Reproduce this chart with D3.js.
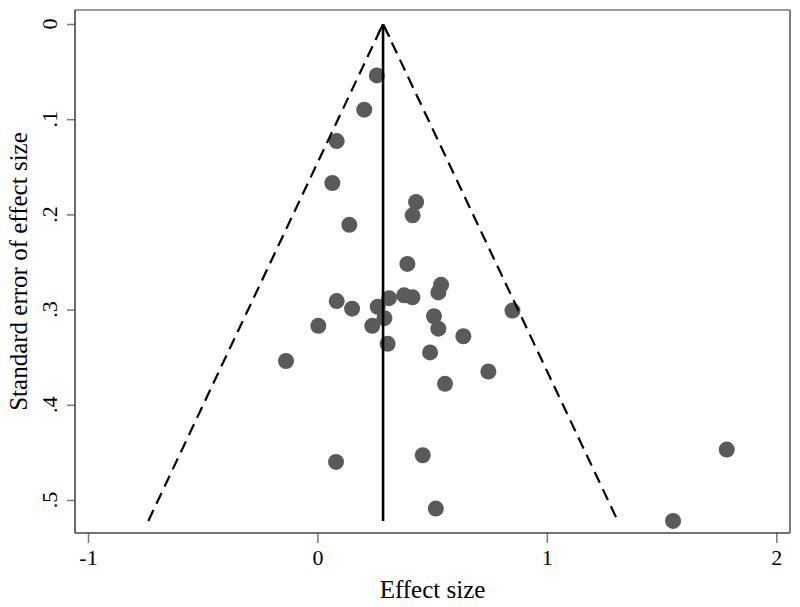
<!DOCTYPE html>
<html>
<head>
<meta charset="utf-8">
<script src="https://cdnjs.cloudflare.com/ajax/libs/d3/7.8.5/d3.min.js"></script>
<style>
  body { margin: 0; background: #fff; }
  svg { display: block; font-family: "Liberation Serif", "Times New Roman", serif; }
</style>
</head>
<body>
<div id="chart"></div>
<script>
// effect size of each study
var effectSize = [0.259, 0.204, 0.084, 0.065, 0.139, 0.430, 0.415, 0.392, 0.539, 0.527,
                  0.084, 0.151, 0.263, 0.312, 0.378, 0.414, 0.292, 0.508, 0.527, 0.004,
                  0.239, 0.850, 0.636, 0.306, 0.491, -0.137, 0.745, 0.556, 0.081, 0.459,
                  0.516, 1.784, 1.550];
// standard error of each study
var stdError = [0.054, 0.090, 0.123, 0.167, 0.211, 0.187, 0.201, 0.252, 0.274, 0.282,
                0.291, 0.299, 0.297, 0.288, 0.285, 0.287, 0.309, 0.307, 0.320, 0.317,
                0.317, 0.301, 0.328, 0.336, 0.345, 0.354, 0.365, 0.378, 0.460, 0.453,
                0.509, 0.447, 0.522];
var pooled = 0.286;
var maxSE = 0.522;
var xTicks = [-1, 0, 1, 2];
var xTickLabels = ["-1", "0", "1", "2"];
var yTicks = [0, 0.1, 0.2, 0.3, 0.4, 0.5];
var yTickLabels = ["0", ".1", ".2", ".3", ".4", ".5"];

var width = 800, height = 607;
var pLeft = 75, pRight = 790, pTop = 10, pBottom = 533;

var x = d3.scaleLinear().domain([-1, 2]).range([88, 776.3]);
var y = d3.scaleLinear().domain([0, 0.5]).range([24, 500]);

var svg = d3.select("#chart").append("svg")
    .attr("width", width)
    .attr("height", height);

// arrow head for the pooled line
svg.append("defs").append("marker")
    .attr("id", "arrow")
    .attr("viewBox", "0 0 10 10")
    .attr("refX", 10).attr("refY", 5)
    .attr("markerWidth", 5).attr("markerHeight", 5)
    .attr("markerUnits", "strokeWidth")
    .attr("orient", "auto")
  .append("path")
    .attr("d", "M0,0 L10,5 L0,10")
    .attr("fill", "none")
    .attr("stroke", "#000")
    .attr("stroke-width", 1.4);

// frame
svg.append("line").attr("x1", pLeft).attr("x2", pRight).attr("y1", pTop).attr("y2", pTop)
    .attr("stroke", "#9a9a9a").attr("stroke-width", 2);
svg.append("line").attr("x1", pRight).attr("x2", pRight).attr("y1", pTop).attr("y2", pBottom)
    .attr("stroke", "#555").attr("stroke-width", 1.5);

// points
svg.selectAll("circle.pt")
    .data(effectSize)
  .enter().append("circle")
    .attr("class", "pt")
    .attr("cx", function(d) { return x(d); })
    .attr("cy", function(d, i) { return y(stdError[i]); })
    .attr("r", 8)
    .attr("fill", "#5a5a5a");

// pseudo confidence limits
var funnel = [[pooled - 1.96 * maxSE, maxSE], [pooled, 0], [pooled + 1.96 * maxSE, maxSE]];
svg.append("path")
    .attr("d", d3.line().x(function(d) { return x(d[0]); }).y(function(d) { return y(d[1]); })(funnel))
    .attr("fill", "none")
    .attr("stroke", "#000")
    .attr("stroke-width", 2.2)
    .attr("stroke-dasharray", "12,7");

// pooled effect line
svg.append("line")
    .attr("x1", x(pooled)).attr("x2", x(pooled))
    .attr("y1", y(maxSE)).attr("y2", y(0))
    .attr("stroke", "#000")
    .attr("stroke-width", 2.6)
    .attr("marker-end", "url(#arrow)");

// axes
var xAxis = svg.append("g")
    .attr("class", "x axis")
    .attr("transform", "translate(0," + pBottom + ")")
    .call(d3.axisBottom(x).tickValues(xTicks).tickSize(10).tickPadding(6)
        .tickFormat(function(d, i) { return xTickLabels[i]; }));
xAxis.select(".domain").remove();
xAxis.selectAll(".tick line").attr("stroke", "#777").attr("stroke-width", 1.5);
xAxis.selectAll(".tick text").style("font-size", "22px").attr("fill", "#000")
    .style("font-family", "Liberation Serif");

var yAxis = svg.append("g")
    .attr("class", "y axis")
    .attr("transform", "translate(" + pLeft + ",0)")
    .call(d3.axisLeft(y).tickValues(yTicks).tickSize(8).tickFormat(""));
yAxis.select(".domain").remove();
yAxis.selectAll(".tick line").attr("stroke", "#777").attr("stroke-width", 1.5);

// rotated y tick labels
svg.selectAll("text.ytick")
    .data(yTicks)
  .enter().append("text")
    .attr("class", "ytick")
    .attr("transform", function(d) { return "translate(57," + y(d) + ") rotate(-90)"; })
    .attr("text-anchor", "middle")
    .style("font-size", "22px")
    .text(function(d, i) { return yTickLabels[i]; });

// axis lines
svg.append("line").attr("x1", pLeft).attr("x2", pLeft).attr("y1", pTop).attr("y2", pBottom)
    .attr("stroke", "#444").attr("stroke-width", 1.6);
svg.append("line").attr("x1", pLeft).attr("x2", pRight).attr("y1", pBottom).attr("y2", pBottom)
    .attr("stroke", "#444").attr("stroke-width", 1.6);

// axis titles
svg.append("text")
    .attr("x", (pLeft + pRight) / 2)
    .attr("y", 598)
    .attr("text-anchor", "middle")
    .style("font-size", "25px")
    .text("Effect size");

svg.append("text")
    .attr("transform", "translate(27," + ((pTop + pBottom) / 2) + ") rotate(-90)")
    .attr("text-anchor", "middle")
    .style("font-size", "25px")
    .text("Standard error of effect size");
</script>
</body>
</html>
